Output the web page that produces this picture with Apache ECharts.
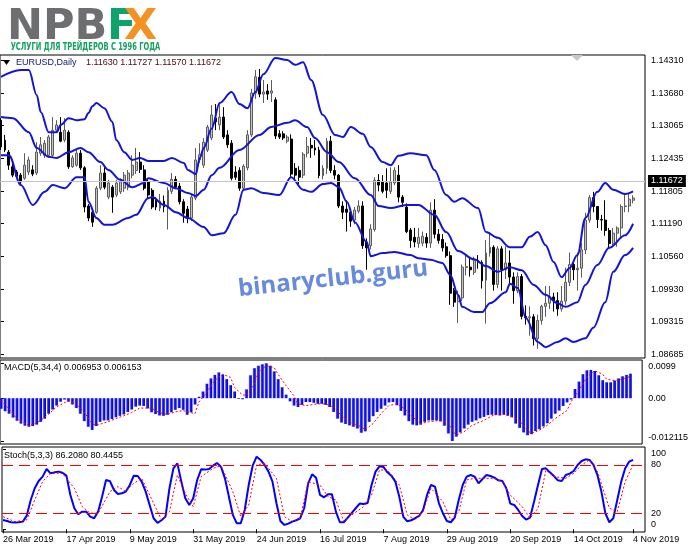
<!DOCTYPE html>
<html><head><meta charset="utf-8">
<script src="https://cdn.jsdelivr.net/npm/echarts@6/dist/echarts.min.js"></script>
<style>html,body{margin:0;padding:0;background:#fff}#c{width:691px;height:549px}</style>
</head><body><div id="c"></div>
<script>
// ---------- DATA ----------
const opens = [1.1316,1.1278,1.1255,1.1227,1.1217,1.1211,1.1205,1.1217,1.1221,1.1215,
1.1253,1.1249,1.1249,1.1249,1.1297,1.1293,1.1278,1.1293,1.1227,1.1230,
1.1253,1.1225,1.1152,1.1140,1.1140,1.1186,1.1215,1.1169,1.1188,1.1173,
1.1179,1.1186,1.1188,1.1211,1.1220,1.1236,1.1221,1.1198,1.1182,1.1163,
1.1148,1.1161,1.1150,1.1180,1.1203,1.1190,1.1160,1.1146,1.1129,1.1167,
1.1240,1.1230,1.1259,1.1282,1.1320,1.1307,1.1322,1.1288,1.1272,1.1217,
1.1220,1.1186,1.1225,1.1288,1.1368,1.1398,1.1366,1.1372,1.1368,1.1355,
1.1290,1.1290,1.1276,1.1280,1.1224,1.1220,1.1211,1.1253,1.1268,1.1263,
1.1259,1.1210,1.1224,1.1276,1.1220,1.1211,1.1152,1.1146,1.1140,1.1125,
1.1142,1.1152,1.1083,1.1076,1.1107,1.1201,1.1199,1.1196,1.1180,1.1196,
1.1211,1.1169,1.1150,1.1106,1.1092,1.1080,1.1081,1.1092,1.1081,1.1144,
1.1098,1.1088,1.1074,1.1057,1.0991,1.0969,1.0976,1.1034,1.1035,1.1025,
1.1048,1.1044,1.1010,1.1062,1.1073,1.1002,1.1070,1.1030,1.1043,1.1016,
1.0990,1.1017,1.0941,1.0938,1.0940,1.0898,1.0933,1.0960,1.0966,1.0978,
1.0971,1.0955,1.0970,1.1006,1.1040,1.1030,1.1033,1.1068,1.1125,1.1168,
1.1151,1.1126,1.1125,1.1105,1.1080,1.1100,1.1110,1.1151,1.1152,1.1163];
const closes = [1.1265,1.1259,1.1230,1.1211,1.1209,1.1198,1.1230,1.1240,1.1213,1.1255,
1.1269,1.1272,1.1284,1.1297,1.1307,1.1276,1.1297,1.1227,1.1244,1.1253,
1.1225,1.1150,1.1129,1.1121,1.1186,1.1215,1.1188,1.1196,1.1169,1.1196,
1.1198,1.1211,1.1215,1.1230,1.1236,1.1222,1.1186,1.1173,1.1150,1.1150,
1.1161,1.1150,1.1182,1.1203,1.1188,1.1160,1.1138,1.1129,1.1169,1.1240,
1.1250,1.1274,1.1303,1.1326,1.1313,1.1322,1.1284,1.1269,1.1205,1.1207,
1.1186,1.1228,1.1288,1.1368,1.1399,1.1366,1.1370,1.1366,1.1372,1.1286,
1.1284,1.1282,1.1284,1.1213,1.1211,1.1207,1.1251,1.1266,1.1263,1.1259,
1.1210,1.1224,1.1276,1.1220,1.1211,1.1152,1.1140,1.1140,1.1123,1.1144,
1.1152,1.1076,1.1072,1.1108,1.1201,1.1192,1.1180,1.1182,1.1198,1.1220,
1.1169,1.1159,1.1103,1.1086,1.1083,1.1092,1.1094,1.1081,1.1144,1.1098,
1.1086,1.1072,1.1057,1.0985,1.0968,1.0980,1.1035,1.1036,1.1030,1.1048,
1.1044,1.1009,1.1062,1.1073,1.1002,1.1070,1.1030,1.1043,1.1016,1.0990,
1.1017,1.0941,1.0938,1.0940,1.0898,1.0933,1.0960,1.0966,1.0978,1.0971,
1.0955,1.0970,1.1006,1.1040,1.1030,1.1033,1.1068,1.1125,1.1168,1.1151,
1.1126,1.1125,1.1105,1.1080,1.1100,1.1110,1.1151,1.1152,1.1165,1.11672];
const lows = [1.1259,1.1255,1.1221,1.1207,1.1205,1.1194,1.1202,1.1211,1.1209,1.1211,
1.1248,1.1244,1.1244,1.1246,1.1292,1.1274,1.1274,1.1223,1.1225,1.1227,
1.1221,1.1140,1.1123,1.1112,1.1137,1.1182,1.1184,1.1165,1.1139,1.1169,
1.1175,1.1179,1.1182,1.1205,1.1213,1.1215,1.1182,1.1167,1.1146,1.1144,
1.1142,1.1140,1.1107,1.1175,1.1184,1.1155,1.1120,1.1119,1.1123,1.1163,
1.1234,1.1225,1.1255,1.1278,1.1297,1.1297,1.1280,1.1263,1.1201,1.1202,
1.1181,1.1180,1.1220,1.1284,1.1357,1.1360,1.1349,1.1355,1.1351,1.1280,
1.1280,1.1278,1.1272,1.1207,1.1201,1.1193,1.1205,1.1245,1.1244,1.1249,
1.1205,1.1203,1.1213,1.1215,1.1203,1.1148,1.1127,1.1103,1.1112,1.1117,
1.1138,1.1070,1.1030,1.1069,1.1103,1.1180,1.1176,1.1167,1.1175,1.1192,
1.1159,1.1150,1.1100,1.1072,1.1073,1.1072,1.1075,1.1072,1.1072,1.1090,
1.1080,1.1065,1.1053,1.0963,1.0959,1.0928,1.0970,1.1019,1.1017,1.1020,
1.1032,1.0994,1.0927,1.1055,1.0990,1.0995,1.0990,1.1012,1.1000,1.0965,
1.0985,1.0935,1.0925,1.0904,1.0885,1.0879,1.0925,1.0940,1.0955,1.0950,
1.0942,1.0950,1.0963,1.0999,1.1010,1.0990,1.1015,1.1060,1.1120,1.1140,
1.1110,1.1105,1.1095,1.1072,1.1075,1.1074,1.1090,1.1140,1.1140,1.1157];
const highs = [1.1320,1.1288,1.1259,1.1234,1.1221,1.1215,1.1253,1.1246,1.1230,1.1274,
1.1284,1.1278,1.1288,1.1322,1.1316,1.1322,1.1320,1.1297,1.1249,1.1259,
1.1259,1.1228,1.1156,1.1144,1.1190,1.1230,1.1227,1.1202,1.1192,1.1202,
1.1205,1.1217,1.1221,1.1249,1.1263,1.1255,1.1230,1.1205,1.1186,1.1169,
1.1175,1.1172,1.1188,1.1215,1.1209,1.1196,1.1165,1.1152,1.1175,1.1263,
1.1272,1.1282,1.1307,1.1345,1.1347,1.1347,1.1341,1.1297,1.1278,1.1228,
1.1226,1.1232,1.1297,1.1376,1.1412,1.1414,1.1393,1.1385,1.1393,1.1360,
1.1297,1.1295,1.1288,1.1289,1.1234,1.1228,1.1255,1.1284,1.1282,1.1278,
1.1265,1.1230,1.1282,1.1286,1.1230,1.1213,1.1161,1.1163,1.1146,1.1150,
1.1163,1.1161,1.1090,1.1117,1.1207,1.1213,1.1211,1.1224,1.1226,1.1226,
1.1230,1.1173,1.1157,1.1110,1.1110,1.1110,1.1103,1.1100,1.1159,1.1165,
1.1108,1.1098,1.1082,1.1065,1.0995,1.0990,1.1040,1.1057,1.1053,1.1055,
1.1058,1.1048,1.1087,1.1102,1.1077,1.1075,1.1075,1.1075,1.1067,1.1025,
1.1025,1.1022,1.0962,1.0960,1.0945,1.0944,1.0963,1.0999,1.0999,1.0986,
1.0987,1.0999,1.1034,1.1063,1.1047,1.1063,1.1082,1.1139,1.1173,1.1179,
1.1152,1.1135,1.1163,1.1110,1.1110,1.1113,1.1155,1.1175,1.1175,1.11727];

// Bollinger bands: [bar index, price]
const bbUpper = [[0,1.1399],[5,1.1412],[7,1.1412],[9,1.1364],[10,1.1332],[12,1.1293],[14,1.1293],[15,1.1307],[17,1.1320],[19,1.1316],[21,1.1318],[22,1.1330],[23,1.1343],[24,1.1349],[26,1.1339],[28,1.1313],[29,1.1278],[31,1.1255],[33,1.1240],[35,1.1244],[37,1.1238],[41,1.1238],[43,1.1244],[46,1.1234],[47,1.1221],[49,1.1213],[50,1.1244],[51,1.1263],[53,1.1300],[55,1.1349],[58,1.1370],[60,1.1347],[62,1.1339],[64,1.1370],[66,1.1404],[69,1.1435],[72,1.1431],[74,1.1422],[76,1.1427],[78,1.1393],[81,1.1326],[84,1.1288],[86,1.1284],[88,1.1303],[91,1.1290],[93,1.1265],[96,1.1236],[98,1.1230],[100,1.1248],[103,1.1253],[107,1.1249],[109,1.1221],[112,1.1173],[114,1.1160],[116,1.1167],[120,1.1148],[122,1.1102],[125,1.1091],[128,1.1073],[131,1.1073],[133,1.1093],[135,1.1102],[137,1.1077],[139,1.1045],[141,1.1016],[143,1.1033],[145,1.1058],[147,1.1129],[150,1.1179],[152,1.1196],[154,1.1183],[157,1.1175],[159,1.1180]];
const bbMiddle = [[0,1.1322],[3,1.1320],[7,1.1293],[9,1.1263],[12,1.1246],[14,1.1244],[17,1.1255],[20,1.1263],[22,1.1255],[25,1.1236],[27,1.1221],[30,1.1202],[33,1.1188],[36,1.1196],[37,1.1205],[41,1.1196],[44,1.1186],[47,1.1177],[49,1.1171],[51,1.1183],[53,1.1211],[55,1.1225],[60,1.1259],[65,1.1288],[68,1.1303],[72,1.1311],[74,1.1316],[77,1.1303],[79,1.1282],[82,1.1255],[85,1.1236],[89,1.1205],[93,1.1173],[95,1.1152],[98,1.1148],[102,1.1154],[105,1.1154],[109,1.1135],[112,1.1102],[115,1.1066],[119,1.1050],[122,1.1037],[125,1.1026],[128,1.1035],[131,1.1029],[134,1.1001],[137,1.0982],[140,1.0966],[142,1.0959],[145,1.0968],[147,1.1001],[150,1.1039],[153,1.1072],[157,1.1096],[159,1.1118]];
const bbLower = [[0,1.1249],[2,1.1249],[5,1.1192],[8,1.1154],[11,1.1179],[13,1.1192],[16,1.1186],[19,1.1207],[21,1.1207],[22,1.1160],[24,1.1129],[26,1.1116],[28,1.1116],[32,1.1129],[34,1.1135],[37,1.1167],[38,1.1169],[41,1.1154],[44,1.1140],[47,1.1129],[51,1.1112],[53,1.1096],[56,1.1100],[59,1.1135],[61,1.1183],[63,1.1186],[66,1.1177],[70,1.1173],[73,1.1207],[76,1.1183],[78,1.1179],[81,1.1194],[83,1.1196],[85,1.1188],[87,1.1160],[89,1.1121],[92,1.1083],[93,1.1056],[96,1.1062],[99,1.1064],[103,1.1058],[105,1.1052],[108,1.1049],[111,1.1043],[113,1.1020],[115,1.0982],[116,1.0959],[119,1.0949],[121,1.0949],[123,1.0966],[127,1.0987],[128,1.1003],[130,1.0995],[132,1.0938],[135,1.0892],[137,1.0882],[140,1.0892],[142,1.0899],[144,1.0892],[147,1.0899],[149,1.0919],[152,1.0968],[154,1.1026],[157,1.1058],[159,1.1072]];

const macdHist = [-0.0030,-0.0037,-0.0044,-0.0055,-0.0064,-0.0072,-0.0078,-0.0081,-0.0079,-0.0075,
-0.0067,-0.0058,-0.0044,-0.0032,-0.0021,-0.0010,-0.0004,-0.0010,-0.0018,-0.0028,
-0.0044,-0.0065,-0.0081,-0.0090,-0.0079,-0.0067,-0.0063,-0.0063,-0.0059,-0.0054,
-0.0050,-0.0046,-0.0039,-0.0032,-0.0024,-0.0021,-0.0022,-0.0029,-0.0040,-0.0045,
-0.0049,-0.0050,-0.0047,-0.0040,-0.0033,-0.0028,-0.0033,-0.0047,-0.0040,-0.0018,
0.0004,0.0019,0.0041,0.0056,0.0066,0.0073,0.0067,0.0054,0.0037,0.0019,
-0.0002,-0.0003,0.0025,0.0065,0.0085,0.0092,0.0096,0.0099,0.0092,0.0076,
0.0054,0.0031,0.0010,-0.0009,-0.0021,-0.0025,-0.0019,-0.0011,-0.0011,-0.0013,
-0.0016,-0.0016,-0.0019,-0.0025,-0.0039,-0.0058,-0.0069,-0.0073,-0.0077,-0.0081,
-0.0086,-0.0098,-0.0094,-0.0067,-0.0051,-0.0039,-0.0030,-0.0021,-0.0012,-0.0011,
-0.0020,-0.0036,-0.0049,-0.0065,-0.0075,-0.0077,-0.0075,-0.0067,-0.0063,-0.0063,
-0.0063,-0.0066,-0.0078,-0.0100,-0.012115,-0.0109,-0.0097,-0.0086,-0.0075,-0.0067,
-0.0063,-0.0057,-0.0053,-0.0048,-0.0047,-0.0048,-0.0049,-0.0047,-0.0050,-0.0054,
-0.0072,-0.0084,-0.0097,-0.0105,-0.0102,-0.0093,-0.0088,-0.0080,-0.0071,-0.0058,
-0.0044,-0.0035,-0.0022,-0.0012,-0.0004,0.0026,0.0047,0.0068,0.0079,0.0080,
0.0077,0.0065,0.0051,0.0045,0.0045,0.0050,0.0056,0.0062,0.0066,0.006953];
const macdSignal = [[0,-0.0007],[2,-0.0030],[4,-0.0058],[7,-0.0077],[8,-0.0075],[10,-0.0063],[12,-0.0046],[14,-0.0025],[17,-0.0007],[19,-0.0016],[21,-0.0039],[23,-0.0072],[24,-0.0077],[27,-0.0067],[29,-0.0058],[31,-0.0050],[33,-0.0041],[35,-0.0028],[38,-0.0028],[40,-0.0041],[42,-0.0046],[44,-0.0039],[46,-0.0035],[49,-0.0044],[50,-0.0011],[52,0.0017],[54,0.0050],[56,0.0068],[58,0.0059],[59,0.0031],[61,0.0009],[62,0.0009],[64,0.0040],[65,0.0073],[67,0.0092],[69,0.0087],[70,0.0068],[72,0.0036],[74,0.0007],[75,-0.0016],[77,-0.0021],[80,-0.0016],[82,-0.0016],[84,-0.0025],[86,-0.0049],[88,-0.0067],[91,-0.0081],[92,-0.0090],[94,-0.0072],[96,-0.0044],[98,-0.0021],[100,-0.0016],[102,-0.0030],[104,-0.0053],[106,-0.0072],[108,-0.0067],[111,-0.0063],[113,-0.0072],[115,-0.0105],[117,-0.0095],[119,-0.0077],[122,-0.0063],[124,-0.0050],[126,-0.0044],[128,-0.0047],[131,-0.0063],[133,-0.0091],[134,-0.0100],[136,-0.0091],[138,-0.0077],[140,-0.0058],[143,-0.0035],[144,-0.0011],[146,0.0022],[148,0.0059],[150,0.0078],[152,0.0068],[153,0.0054],[155,0.0050],[157,0.0054],[159,0.006153]];

const stochMain = [11.6,10.3,8.7,8.3,8.7,9.5,17.0,36.4,50.9,60.0,
65.4,74.9,69.5,70.7,71.6,70.3,66.6,42.6,26.1,18.6,
21.9,21.9,15.7,13.7,21.9,40.5,61.2,59.6,48.8,43.9,
44.7,46.8,55.0,66.6,66.2,59.2,46.8,30.2,13.7,7.9,
11.2,15.7,50.9,75.7,81.9,59.2,38.5,30.2,38.5,61.2,
74.5,74.1,74.9,79.0,82.3,77.8,63.3,40.5,17.8,7.4,
7.4,24.0,55.0,79.0,90.2,86.1,79.9,71.6,59.2,32.3,
10.3,5.4,7.0,9.5,11.2,13.7,26.1,57.1,68.3,64.1,
42.6,39.7,43.4,43.4,21.9,8.7,8.7,14.5,20.3,26.1,
31.9,31.4,32.7,55.0,71.6,78.2,77.4,70.7,66.6,59.2,
40.5,15.7,9.9,11.2,13.7,16.5,24.0,42.6,55.0,53.0,
32.3,19.9,10.3,8.7,14.5,36.4,55.0,65.4,67.4,65.4,
57.1,62.5,67.4,66.2,64.1,60.8,60.0,50.9,31.9,30.2,
24.0,16.5,12.0,14.5,34.3,55.0,74.9,75.7,70.7,66.2,
60.8,60.0,67.4,69.1,72.4,79.9,84.8,86.9,86.1,79.9,
67.4,46.8,19.9,8.7,13.7,36.4,59.2,75.7,84.0,86.208];
const stochSignal = [[0,15.7],[3,9.5],[6,11.6],[8,36.4],[10,59.2],[12,69.5],[15,69.5],[18,50.9],[20,28.1],[22,19.9],[24,19.9],[27,46.8],[29,53.0],[31,46.8],[33,57.1],[35,63.3],[38,32.3],[40,11.6],[42,21.9],[44,67.4],[46,44.7],[48,28.1],[50,65.4],[53,75.7],[55,79.0],[58,46.8],[60,15.7],[62,30.2],[64,79.9],[66,81.9],[69,63.3],[71,15.7],[73,9.5],[75,13.7],[77,59.2],[80,55.0],[82,40.5],[84,36.4],[86,9.5],[88,17.8],[91,28.1],[93,42.6],[95,73.6],[97,73.6],[100,55.0],[102,17.8],[104,11.6],[106,21.9],[108,50.9],[111,34.3],[113,11.6],[115,21.9],[117,61.2],[119,63.3],[122,63.3],[124,63.3],[126,59.2],[128,42.6],[131,28.1],[133,13.7],[135,26.1],[137,73.6],[139,65.4],[142,63.3],[144,69.5],[146,79.9],[148,86.1],[150,71.6],[153,26.1],[155,21.9],[157,59.2],[159,80.4455]];
const stochLevels = [80, 20];

const priceTicks = [1.14310,1.13680,1.13065,1.12435,1.11805,1.11190,1.10560,1.09930,1.09315,1.08685];
const macdTicks = [0.0099, 0, -0.012115];
const macdTickLabels = ['0.0099', '0.00', '-0.012115'];
const stochTicks = [100, 80, 20, 0];
const dateTickIdx = [0,16,32,48,64,80,96,112,128,144,159];
const dateTickLabels = ['26 Mar 2019','17 Apr 2019','9 May 2019','31 May 2019','24 Jun 2019','16 Jul 2019','7 Aug 2019','29 Aug 2019','20 Sep 2019','14 Oct 2019','4 Nov 2019'];
const lastPrice = 1.11672;
const headerOHLC = ['1.11630','1.11727','1.11570','1.11672'];
const macdHeader = 'MACD(5,34,4) 0.006953 0.006153';
const stochHeader = 'Stoch(5,3,3) 86.2080 80.4455';

// ---------- CHART ----------
const FONT = "'Liberation Sans', Arial, sans-serif";
const candleData = opens.map((o, i) => [i, o, closes[i], lows[i], highs[i]]);
const idxOf = (arr, v) => arr.findIndex(t => Math.abs(t - v) < 1e-9);
const chart = echarts.init(document.getElementById('c'), null, {renderer: 'canvas'});
const XMIN = -0.25, XMAX = 162;
const grids = [
  {left: 0, top: 55, width: 645, height: 303},
  {left: 0, top: 360, width: 645, height: 84},
  {left: 0, top: 447, width: 645, height: 85}
].map(g => Object.assign(g, {show: true, borderColor: '#000', borderWidth: 1, backgroundColor: 'transparent'}));

const xAxes = [0, 1, 2].map(g => ({
  type: 'value', gridIndex: g, min: XMIN, max: XMAX,
  axisLine: {show: false}, splitLine: {show: false},
  axisTick: g === 2 ? {show: true, customValues: dateTickIdx, length: 4, lineStyle: {color: '#000'}} : {show: false},
  axisLabel: g === 2 ? {
    show: true, customValues: dateTickIdx, align: 'left', margin: 3,
    fontSize: 9, fontFamily: FONT, color: '#000',
    formatter: v => { const k = idxOf(dateTickIdx, v); return k >= 0 ? dateTickLabels[k] : ''; }
  } : {show: false}
}));

const labelStyle = {fontSize: 9, fontFamily: FONT, color: '#000'};
const yAxes = [
  {
    type: 'value', gridIndex: 0, position: 'right', min: 1.08612, max: 1.14408,
    axisLine: {show: false}, splitLine: {show: false},
    axisTick: {show: true, customValues: priceTicks, length: 3, lineStyle: {color: '#000'}},
    axisLabel: Object.assign({customValues: priceTicks, margin: 6, formatter: v => v.toFixed(5)}, labelStyle)
  },
  {
    type: 'value', gridIndex: 1, position: 'right', min: -0.01298, max: 0.01082,
    axisLine: {show: false}, splitLine: {show: false},
    axisTick: {show: true, customValues: macdTicks, length: 3, lineStyle: {color: '#000'}},
    axisLabel: Object.assign({
      customValues: macdTicks, margin: 6,
      formatter: v => {
        const k = idxOf(macdTicks, v);
        if (k === 0) return '{t|' + macdTickLabels[k] + '}';
        if (k === 2) return '{b|' + macdTickLabels[k] + '}';
        return k >= 0 ? macdTickLabels[k] : '';
      },
      rich: {
        t: Object.assign({padding: [6, 0, 0, 0]}, labelStyle),
        b: Object.assign({padding: [0, 0, 6, 0]}, labelStyle)
      }
    }, labelStyle)
  },
  {
    type: 'value', gridIndex: 2, position: 'right', min: -3.4, max: 102.2,
    axisLine: {show: false}, splitLine: {show: false},
    axisTick: {show: true, customValues: stochTicks, length: 3, lineStyle: {color: '#000'}},
    axisLabel: Object.assign({
      customValues: stochTicks, margin: 6,
      formatter: v => {
        if (v === 100) return '{t|100}';
        if (v === 0) return '{b|0}';
        return String(v);
      },
      rich: {
        t: Object.assign({padding: [10, 0, 0, 0]}, labelStyle),
        b: Object.assign({padding: [0, 0, 10, 0]}, labelStyle)
      }
    }, labelStyle)
  }
];

const bandLine = (data) => ({
  type: 'line', xAxisIndex: 0, yAxisIndex: 0, data, showSymbol: false,
  smooth: 0.35, smoothMonotone: 'x', silent: true, z: 4,
  lineStyle: {color: '#1414d8', width: 2}
});

const option = {
  animation: false,
  backgroundColor: '#ffffff',
  grid: grids,
  xAxis: xAxes,
  yAxis: yAxes,
  series: [
    {
      type: 'candlestick', xAxisIndex: 0, yAxisIndex: 0, data: candleData,
      encode: {x: 0, y: [1, 2, 3, 4]}, barWidth: 2.4, z: 3,
      itemStyle: {color: '#c4c4c4', color0: '#000000', borderColor: '#5c5c5c', borderColor0: '#000000', borderWidth: 1},
      markLine: {
        silent: true, symbol: 'none', animation: false,
        lineStyle: {color: '#c4c4c4', type: 'solid', width: 1},
        label: {
          show: true, position: 'end', distance: 3, formatter: lastPrice.toFixed(5),
          backgroundColor: '#000', color: '#fff', fontSize: 9, fontFamily: FONT, padding: [2, 3, 1, 3]
        },
        data: [{yAxis: lastPrice}]
      }
    },
    bandLine(bbUpper), bandLine(bbMiddle), bandLine(bbLower),
    {
      type: 'bar', xAxisIndex: 1, yAxisIndex: 1, data: macdHist.map((v, i) => [i, v]),
      barWidth: 3, silent: true,
      itemStyle: {color: new echarts.graphic.LinearGradient(0, 0, 1, 0, [
        {offset: 0, color: '#8a8aff'}, {offset: 0.34, color: '#1a1aff'}, {offset: 1, color: '#0000b8'}])}
    },
    {
      type: 'line', xAxisIndex: 1, yAxisIndex: 1, data: macdSignal, showSymbol: false, silent: true, z: 5,
      lineStyle: {color: '#ff0000', width: 1, type: [2, 2]}
    },
    {
      type: 'line', xAxisIndex: 2, yAxisIndex: 2, data: stochMain.map((v, i) => [i, v]),
      showSymbol: false, silent: true, z: 4,
      lineStyle: {color: '#0000ff', width: 2},
      markLine: {
        silent: true, symbol: 'none', animation: false, label: {show: false},
        lineStyle: {color: '#ff0000', type: [11, 6], width: 1},
        data: stochLevels.map(v => ({yAxis: v}))
      }
    },
    {
      type: 'line', xAxisIndex: 2, yAxisIndex: 2, data: stochSignal, showSymbol: false, silent: true, z: 5,
      lineStyle: {color: '#ff0000', width: 1, type: [2, 2]}
    }
  ],
  graphic: [
    {type: 'text', x: 7, y: 28, style: {text: 'NPB', font: 'bold 43px "DejaVu Sans"', fill: '#6d6e70', verticalAlign: 'middle'}},
    {type: 'text', x: 107, y: 28, style: {text: 'F', font: 'bold 43px "DejaVu Sans"', fill: '#0fa36b', verticalAlign: 'middle'}},
    {type: 'text', x: 124, y: 28, style: {text: 'X', font: 'bold 43px "DejaVu Sans"', fill: '#f39223', verticalAlign: 'middle'}},
    {type: 'text', x: 8, y: 47, scaleX: 0.67, scaleY: 1, originX: 8, originY: 47,
      style: {text: 'УСЛУГИ ДЛЯ ТРЕЙДЕРОВ С 1996 ГОДА', font: "bold 10px 'DejaVu Sans', sans-serif", fill: '#14a05e', verticalAlign: 'middle'}},
    {type: 'polygon', shape: {points: [[3, 60], [10, 60], [6.5, 65]]}, style: {fill: '#000'}},
    {type: 'text', x: 16, y: 63, style: {text: 'EURUSD,Daily', font: '9px ' + FONT, fill: '#16206a', verticalAlign: 'middle'}},
    {type: 'text', x: 86, y: 63, style: {text: headerOHLC.join(' '), font: '9px ' + FONT, fill: '#4a0c0c', verticalAlign: 'middle'}},
    {type: 'polygon', shape: {points: [[571, 55], [583, 55], [577, 61]]}, style: {fill: '#c8c8c8'}},
    {type: 'text', x: 4, y: 368, style: {text: macdHeader, font: '9px ' + FONT, fill: '#000', verticalAlign: 'middle'}},
    {type: 'text', x: 4, y: 456, style: {text: stochHeader, font: '9px ' + FONT, fill: '#000', verticalAlign: 'middle'}},
    {type: 'text', x: 333, y: 279, rotation: 0.11,
      style: {text: 'binaryclub.guru', font: "bold 24px 'Open Sans', 'DejaVu Sans', sans-serif", fill: 'rgba(78,118,214,0.85)', align: 'center', verticalAlign: 'middle'}}
  ]
};
chart.setOption(option);
</script>
</body></html>
